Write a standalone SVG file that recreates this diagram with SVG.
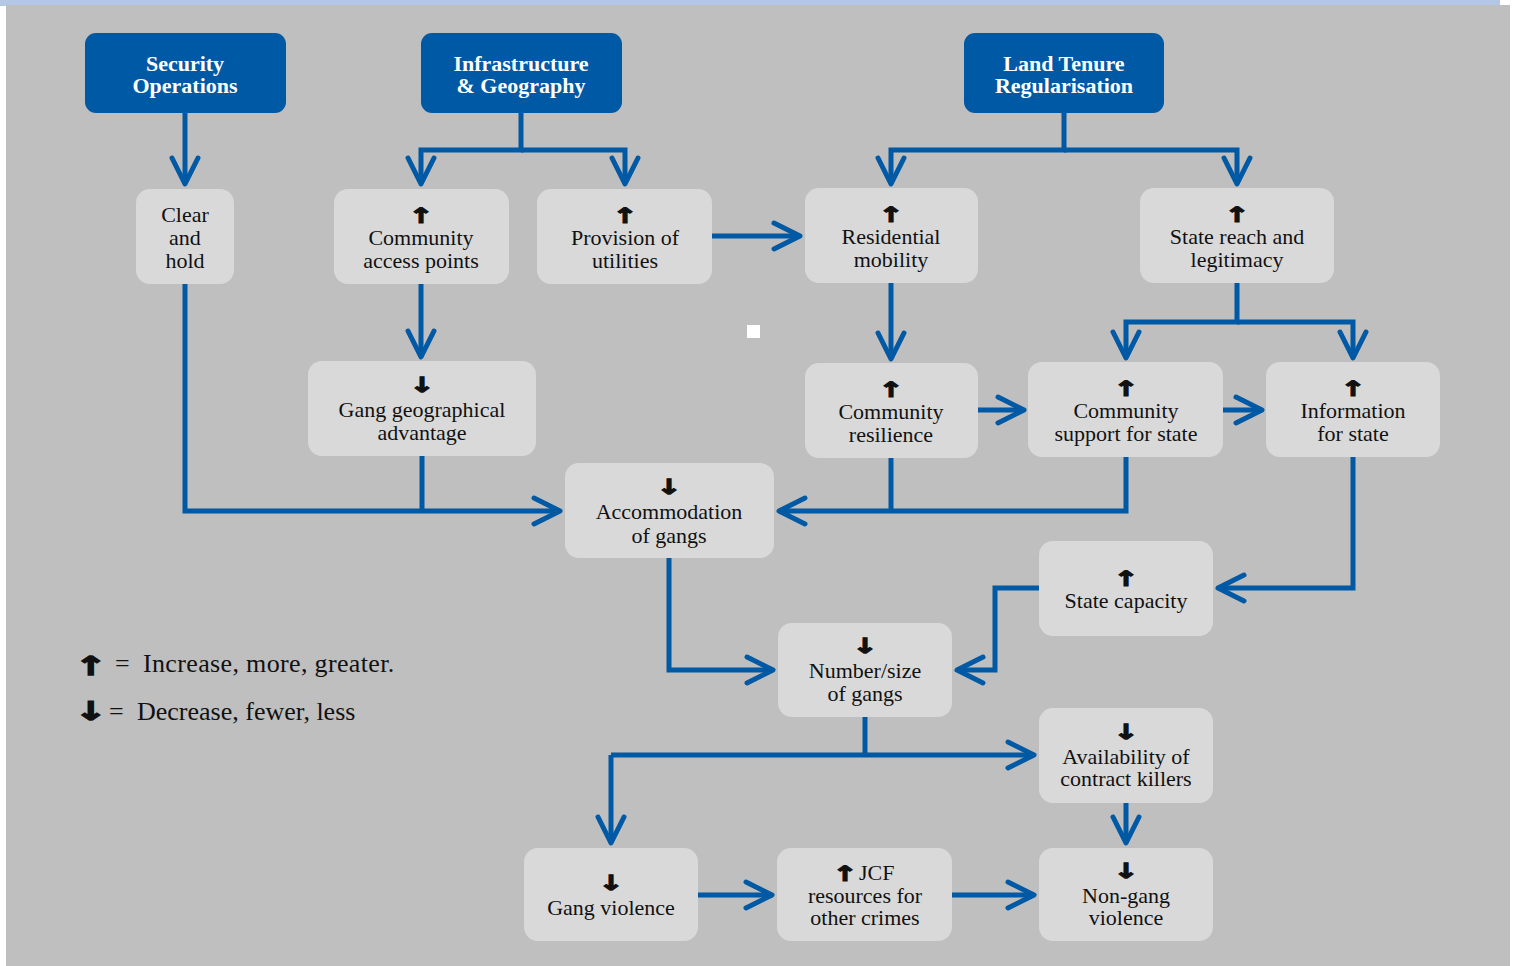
<svg xmlns="http://www.w3.org/2000/svg" width="1513" height="966" viewBox="0 0 1513 966">
<style>
.hdr rect{fill:#0059a4}
.hdr text{fill:#ffffff;font-family:"Liberation Serif",serif;font-weight:bold;font-size:22px;text-anchor:middle}
.nd rect{fill:#d9d9d9}
.nd text{fill:#111111;font-family:"Liberation Serif",serif;font-size:22px;text-anchor:middle}
.nd text.ar,.ar{font-family:"DejaVu Sans",sans-serif;font-weight:bold;font-size:21px;fill:#111111;stroke:#111111;stroke-width:1.1px;text-anchor:middle}
.lg{fill:#111111;font-family:"Liberation Serif",serif;font-size:26px}
.cn path{fill:none;stroke:#0059a4;stroke-width:5;stroke-linejoin:miter}
</style>
<defs>
<marker id="ah" viewBox="-32 -18 36 36" refX="0" refY="0" markerWidth="36" markerHeight="36" markerUnits="userSpaceOnUse" orient="auto">
<path d="M-26,-13 L0,0 L-26,13" fill="none" stroke="#0059a4" stroke-width="5" stroke-linecap="round" stroke-linejoin="round"/>
</marker>
</defs>
<rect x="0" y="0" width="1513" height="966" fill="#ffffff"/>
<rect x="0" y="0" width="1500" height="6" fill="#b4c7e7"/>
<rect x="6" y="5" width="1504" height="961" fill="#bfbfbf"/>
<rect x="747" y="325" width="13" height="13" fill="#ffffff"/>

<g id="connectors" class="cn">
<path d="M185,113 V184" marker-end="url(#ah)"/>
<path d="M521,113 V150 H421 V184" marker-end="url(#ah)"/>
<path d="M521,150 H625 V184" marker-end="url(#ah)"/>
<path d="M1064,113 V150 H891 V184" marker-end="url(#ah)"/>
<path d="M1064,150 H1237 V184" marker-end="url(#ah)"/>
<path d="M712,236 H800" marker-end="url(#ah)"/>
<path d="M421,284 V357" marker-end="url(#ah)"/>
<path d="M891,283 V359" marker-end="url(#ah)"/>
<path d="M1237,283 V322 H1126 V358" marker-end="url(#ah)"/>
<path d="M1237,322 H1353 V358" marker-end="url(#ah)"/>
<path d="M978,410 H1024" marker-end="url(#ah)"/>
<path d="M1223,410 H1262" marker-end="url(#ah)"/>
<path d="M185,284 V511 H560" marker-end="url(#ah)"/>
<path d="M422,456 V511"/>
<path d="M891,458 V511"/>
<path d="M1126,457 V511 H779" marker-end="url(#ah)"/>
<path d="M1353,457 V588 H1218" marker-end="url(#ah)"/>
<path d="M1039,588 H995 V670 H957" marker-end="url(#ah)"/>
<path d="M669,558 V670 H773" marker-end="url(#ah)"/>
<path d="M865,717 V755"/>
<path d="M611,755 H1034" marker-end="url(#ah)"/>
<path d="M611,755 V843" marker-end="url(#ah)"/>
<path d="M1126,803 V843" marker-end="url(#ah)"/>
<path d="M698,895 H772" marker-end="url(#ah)"/>
<path d="M952,895 H1034" marker-end="url(#ah)"/>
</g>

<g id="security-operations" class="hdr">
<rect x="85" y="33" width="201" height="80" rx="11"/>
<text x="185" y="71">Security</text>
<text x="185" y="93">Operations</text>
</g>
<g id="infrastructure-geography" class="hdr">
<rect x="421" y="33" width="201" height="80" rx="11"/>
<text x="521" y="71">Infrastructure</text>
<text x="521" y="93">&amp; Geography</text>
</g>
<g id="land-tenure" class="hdr">
<rect x="964" y="33" width="200" height="80" rx="11"/>
<text x="1064" y="71">Land Tenure</text>
<text x="1064" y="93">Regularisation</text>
</g>

<g id="clear-and-hold" class="nd">
<rect x="136" y="189" width="98" height="95" rx="14"/>
<text x="185" y="222">Clear</text>
<text x="185" y="245">and</text>
<text x="185" y="268">hold</text>
</g>
<g id="community-access-points" class="nd">
<rect x="334" y="189" width="175" height="95" rx="14"/>
<text class="ar" transform="translate(421,223) scale(1.45,1)">↑</text>
<text x="421" y="245">Community</text>
<text x="421" y="268">access points</text>
</g>
<g id="provision-of-utilities" class="nd">
<rect x="537" y="189" width="175" height="95" rx="14"/>
<text class="ar" transform="translate(625,223) scale(1.45,1)">↑</text>
<text x="625" y="245">Provision of</text>
<text x="625" y="268">utilities</text>
</g>
<g id="residential-mobility" class="nd">
<rect x="805" y="188" width="173" height="95" rx="14"/>
<text class="ar" transform="translate(891,222) scale(1.45,1)">↑</text>
<text x="891" y="244">Residential</text>
<text x="891" y="267">mobility</text>
</g>
<g id="state-reach" class="nd">
<rect x="1140" y="188" width="194" height="95" rx="14"/>
<text class="ar" transform="translate(1237,222) scale(1.45,1)">↑</text>
<text x="1237" y="244">State reach and</text>
<text x="1237" y="267">legitimacy</text>
</g>
<g id="gang-geographical-advantage" class="nd">
<rect x="308" y="361" width="228" height="95" rx="14"/>
<text class="ar" transform="translate(422,392) scale(1.45,1)">↓</text>
<text x="422" y="417">Gang geographical</text>
<text x="422" y="440">advantage</text>
</g>
<g id="community-resilience" class="nd">
<rect x="805" y="363" width="173" height="95" rx="14"/>
<text class="ar" transform="translate(891,397) scale(1.45,1)">↑</text>
<text x="891" y="419">Community</text>
<text x="891" y="442">resilience</text>
</g>
<g id="community-support" class="nd">
<rect x="1028" y="362" width="195" height="95" rx="14"/>
<text class="ar" transform="translate(1126,396) scale(1.45,1)">↑</text>
<text x="1126" y="418">Community</text>
<text x="1126" y="441">support for state</text>
</g>
<g id="information-for-state" class="nd">
<rect x="1266" y="362" width="174" height="95" rx="14"/>
<text class="ar" transform="translate(1353,396) scale(1.45,1)">↑</text>
<text x="1353" y="418">Information</text>
<text x="1353" y="441">for state</text>
</g>
<g id="accommodation-of-gangs" class="nd">
<rect x="565" y="463" width="209" height="95" rx="14"/>
<text class="ar" transform="translate(669,494) scale(1.45,1)">↓</text>
<text x="669" y="519">Accommodation</text>
<text x="669" y="543">of gangs</text>
</g>
<g id="state-capacity" class="nd">
<rect x="1039" y="541" width="174" height="95" rx="14"/>
<text class="ar" transform="translate(1126,586) scale(1.45,1)">↑</text>
<text x="1126" y="608">State capacity</text>
</g>
<g id="number-size-of-gangs" class="nd">
<rect x="778" y="623" width="174" height="94" rx="14"/>
<text class="ar" transform="translate(865,653) scale(1.45,1)">↓</text>
<text x="865" y="678">Number/size</text>
<text x="865" y="701">of gangs</text>
</g>
<g id="contract-killers" class="nd">
<rect x="1039" y="708" width="174" height="95" rx="14"/>
<text class="ar" transform="translate(1126,739) scale(1.45,1)">↓</text>
<text x="1126" y="764">Availability of</text>
<text x="1126" y="786">contract killers</text>
</g>
<g id="gang-violence" class="nd">
<rect x="524" y="848" width="174" height="93" rx="14"/>
<text class="ar" transform="translate(611,890) scale(1.45,1)">↓</text>
<text x="611" y="915">Gang violence</text>
</g>
<g id="jcf-resources" class="nd">
<rect x="777" y="848" width="175" height="93" rx="14"/>
<text class="ar" transform="translate(845,881) scale(1.45,1)">↑</text>
<text x="859" y="880" text-anchor="start" style="text-anchor:start">JCF</text>
<text x="865" y="903">resources for</text>
<text x="865" y="925">other crimes</text>
</g>
<g id="non-gang-violence" class="nd">
<rect x="1039" y="848" width="174" height="93" rx="14"/>
<text class="ar" transform="translate(1126,878) scale(1.45,1)">↓</text>
<text x="1126" y="903">Non-gang</text>
<text x="1126" y="925">violence</text>
</g>

<g id="legend">
<text class="ar" transform="translate(91,675) scale(1.5,1)" style="font-size:26px;stroke-width:1.3px">↑</text>
<text class="lg" x="115" y="672">=</text>
<text class="lg" x="143" y="672" letter-spacing="0.35">Increase, more, greater.</text>
<text class="ar" transform="translate(91,720) scale(1.5,1)" style="font-size:26px;stroke-width:1.3px">↓</text>
<text class="lg" x="109" y="720">=</text>
<text class="lg" x="137" y="720">Decrease, fewer, less</text>
</g>
</svg>
